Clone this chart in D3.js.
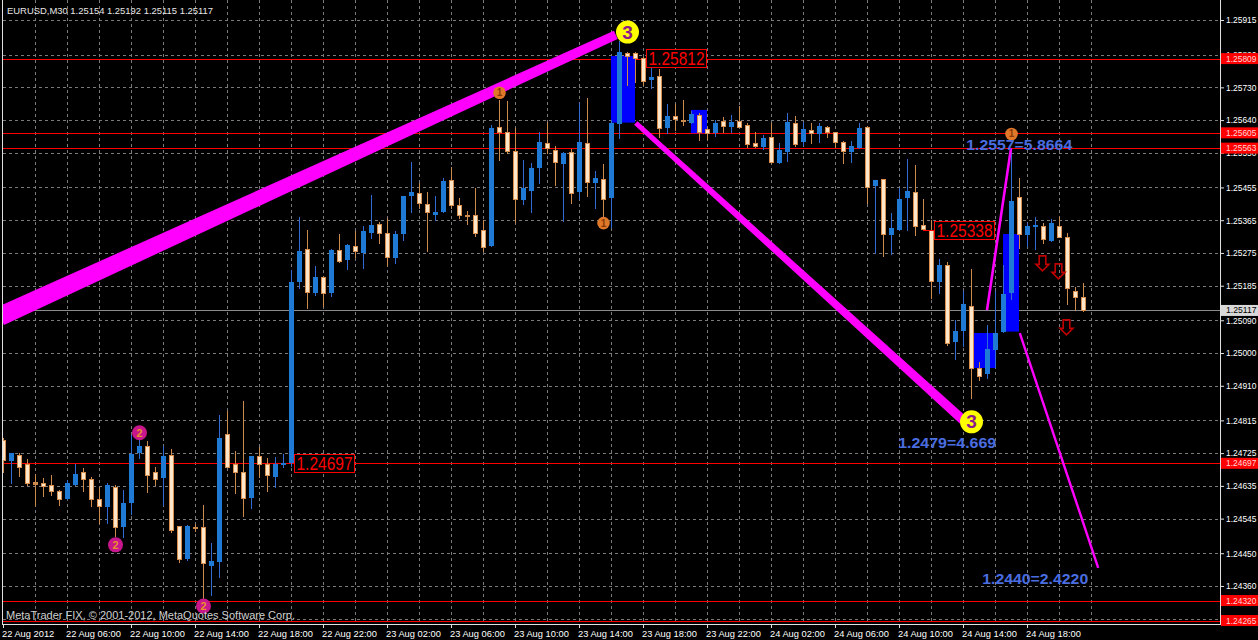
<!DOCTYPE html>
<html><head><meta charset="utf-8">
<script src="https://cdn.jsdelivr.net/npm/d3@7"></script>
<style>html,body{margin:0;padding:0;background:#000;overflow:hidden}svg{display:block}</style>
</head><body><svg id="c" width="1258" height="640"></svg>
<script>
// ---------- DATA ----------
const symbolTitle = "EURUSD,M30  1.25154 1.25192 1.25115 1.25117";
const copyright = "MetaTrader FIX, \u00A9 2001-2012, MetaQuotes Software Corp.";
const opens = [1.24761,1.24702,1.24719,1.24695,1.24646,1.24642,1.24637,1.24621,1.24600,1.24638,
1.24672,1.24653,1.24599,1.24578,1.24631,1.24523,1.24589,1.24725,1.24745,1.24673,
1.24658,1.24719,1.24525,1.24434,1.24522,1.24521,1.24416,1.24427,1.24777,1.24695,
1.24673,1.24601,1.24717,1.24695,1.24660,1.24691,1.24697,1.25196,1.25285,1.25164,
1.25208,1.25166,1.25283,1.25256,1.25294,1.25274,1.25331,1.25355,1.25329,1.25262,
1.25327,1.25432,1.25439,1.25410,1.25380,1.25388,1.25476,1.25406,1.25378,1.25379,
1.25338,1.25294,1.25620,1.25607,1.25555,1.25421,1.25445,1.25509,1.25576,1.25558,
1.25520,1.25552,1.25443,1.25576,1.25468,1.25478,1.25427,1.25629,1.25824,1.25824,
1.25812,1.25750,1.25761,1.25617,1.25651,1.25640,1.25633,1.25654,1.25615,1.25604,
1.25637,1.25622,1.25637,1.25627,1.25578,1.25565,1.25593,1.25523,1.25553,1.25633,
1.25581,1.25613,1.25602,1.25620,1.25607,1.25579,1.25553,1.25564,1.25620,1.25459,
1.25478,1.25323,1.25338,1.25427,1.25442,1.25351,1.25338,1.25196,1.25242,1.25031,
1.25061,1.25129,1.24958,1.24943,1.25007,1.25057,1.25164,1.25428,1.25323,1.25347,
1.25349,1.25309,1.25349,1.25318,1.25171,1.25154];
const highs = [1.24767,1.24726,1.24725,1.24708,1.24668,1.24656,1.24665,1.24624,1.24651,1.24695,
1.24684,1.24660,1.24631,1.24644,1.24637,1.24624,1.24775,1.24766,1.24757,1.24688,
1.24745,1.24737,1.24525,1.24528,1.24531,1.24583,1.24479,1.24830,1.24842,1.24731,
1.24867,1.24717,1.24743,1.24711,1.24715,1.24723,1.25228,1.25373,1.25338,1.25239,
1.25212,1.25285,1.25327,1.25300,1.25336,1.25349,1.25434,1.25361,1.25370,1.25334,
1.25432,1.25526,1.25468,1.25443,1.25432,1.25482,1.25512,1.25425,1.25390,1.25454,
1.25366,1.25627,1.25695,1.25693,1.25618,1.25530,1.25521,1.25607,1.25634,1.25569,
1.25553,1.25560,1.25686,1.25702,1.25501,1.25520,1.25640,1.25858,1.25826,1.25826,
1.25814,1.25787,1.25780,1.25684,1.25684,1.25695,1.25666,1.25660,1.25622,1.25640,
1.25648,1.25654,1.25679,1.25633,1.25607,1.25599,1.25633,1.25576,1.25660,1.25651,
1.25636,1.25633,1.25631,1.25624,1.25608,1.25583,1.25583,1.25631,1.25624,1.25476,
1.25478,1.25384,1.25453,1.25532,1.25517,1.25423,1.25366,1.25258,1.25251,1.25091,
1.25171,1.25230,1.24976,1.25076,1.25171,1.25242,1.25560,1.25480,1.25358,1.25373,
1.25358,1.25368,1.25373,1.25331,1.25181,1.25192];
const lows = [1.24673,1.24644,1.24662,1.24638,1.24583,1.24608,1.24610,1.24583,1.24600,1.24638,
1.24622,1.24580,1.24534,1.24532,1.24496,1.24494,1.24558,1.24711,1.24619,1.24638,
1.24583,1.24509,1.24427,1.24430,1.24511,1.24317,1.24336,1.24384,1.24688,1.24615,
1.24553,1.24575,1.24660,1.24622,1.24631,1.24688,1.24690,1.25178,1.25125,1.25160,
1.25130,1.25157,1.25251,1.25231,1.25265,1.25235,1.25315,1.25303,1.25242,1.25248,
1.25311,1.25388,1.25398,1.25281,1.25366,1.25388,1.25398,1.25372,1.25355,1.25322,
1.25281,1.25294,1.25530,1.25549,1.25361,1.25410,1.25388,1.25468,1.25549,1.25462,
1.25364,1.25412,1.25423,1.25432,1.25398,1.25343,1.25347,1.25591,1.25737,1.25746,
1.25737,1.25729,1.25594,1.25604,1.25613,1.25627,1.25631,1.25585,1.25587,1.25596,
1.25608,1.25608,1.25622,1.25567,1.25565,1.25560,1.25523,1.25521,1.25529,1.25569,
1.25572,1.25578,1.25581,1.25593,1.25567,1.25523,1.25526,1.25564,1.25412,1.25274,
1.25267,1.25272,1.25338,1.25338,1.25325,1.25338,1.25151,1.25164,1.25022,1.24983,
1.25018,1.24877,1.24926,1.24931,1.24963,1.25057,1.25148,1.25288,1.25295,1.25286,
1.25303,1.25309,1.25318,1.25135,1.25117,1.25115];
const closes = [1.24706,1.24725,1.24688,1.24644,1.24640,1.24635,1.24620,1.24598,1.24642,1.24668,
1.24655,1.24598,1.24581,1.24637,1.24521,1.24587,1.24723,1.24745,1.24664,1.24655,
1.24717,1.24514,1.24435,1.24525,1.24520,1.24423,1.24429,1.24766,1.24688,1.24672,
1.24601,1.24717,1.24695,1.24664,1.24695,1.24697,1.25196,1.25281,1.25169,1.25208,
1.25166,1.25283,1.25254,1.25297,1.25279,1.25335,1.25352,1.25331,1.25265,1.25327,
1.25432,1.25442,1.25411,1.25387,1.25388,1.25473,1.25408,1.25380,1.25377,1.25331,
1.25290,1.25619,1.25608,1.25556,1.25423,1.25454,1.25509,1.25580,1.25564,1.25526,
1.25549,1.25441,1.25580,1.25471,1.25481,1.25423,1.25631,1.25826,1.25817,1.25812,
1.25748,1.25758,1.25618,1.25651,1.25642,1.25639,1.25657,1.25608,1.25604,1.25633,
1.25624,1.25634,1.25622,1.25574,1.25570,1.25590,1.25526,1.25558,1.25636,1.25575,
1.25615,1.25605,1.25624,1.25607,1.25581,1.25555,1.25569,1.25618,1.25457,1.25476,
1.25326,1.25343,1.25423,1.25445,1.25350,1.25340,1.25198,1.25242,1.25027,1.25061,
1.25135,1.24960,1.24938,1.25010,1.25054,1.25162,1.25418,1.25326,1.25349,1.25352,
1.25313,1.25357,1.25318,1.25178,1.25155,1.25117];

const timeLabels = ["22 Aug 2012","22 Aug 06:00","22 Aug 10:00","22 Aug 14:00","22 Aug 18:00",
"22 Aug 22:00","23 Aug 02:00","23 Aug 06:00","23 Aug 10:00","23 Aug 14:00","23 Aug 18:00",
"23 Aug 22:00","24 Aug 02:00","24 Aug 06:00","24 Aug 10:00","24 Aug 14:00","24 Aug 18:00"];
const timeLabelBars = [0,8,16,24,32,40,48,56,64,72,80,88,96,104,112,120,128];
const priceTicks = [1.25915,1.25820,1.25730,1.25640,1.25550,1.25455,1.25365,1.25275,1.25185,
1.25090,1.25000,1.24910,1.24815,1.24725,1.24635,1.24545,1.24450,1.24360,1.24270];
const hLevels = [1.25809,1.25605,1.25563,1.24697,1.24320,1.24265];
const bidPrice = 1.25117;

// blue zones: bar from/to, price top/bottom
const zoneBars = [[76,79],[86,88],[121,124],[125,127]];
const zonePrices = [[1.25816,1.25633],[1.25668,1.25604],[1.25055,1.24959],[1.25327,1.25059]];

// pattern legs: [bar, price] start and end
const legStarts = [[-0.375,1.25101],[79.1,1.25632],[123,1.25118],[127.1,1.25055]];
const legEnds   = [[76.6,1.25874],[120,1.24816],[126,1.25563],[136.9,1.24410]];

// numbered pivot markers
const pivot1 = [[62,1.25715],[75,1.25357],[126,1.25602]];
const pivot2 = [[17,1.24781],[14,1.24473],[25,1.24305]];
const pivot3 = [[78,1.25882],[121,1.24811]];

// red boxed price texts: [bar, price]
const boxTexts = ["1.25812","1.25338","1.24697"];
const boxAnchors = [[80,1.25812],[116,1.25338],[36,1.24697]];
// blue projection texts
const projTexts = ["1.2557=5.8664","1.2479=4.669","1.2440=2.4220"];
const projAnchors = [[120.4,1.25572],[111.9,1.24753],[122.4,1.24380]];
// down arrows: [bar, price of top]
const arrowAnchors = [[130,1.25267],[132,1.25245],[133,1.25091]];

// ---------- DRAW ----------
const W = 1258, H = 640, plotR = 1220, plotB = 624;
const svg = d3.select("#c");
const FONT = "Tahoma, 'Liberation Sans', Arial, sans-serif";
svg.append("rect").attr("width", W).attr("height", H).attr("fill", "#000");

const x = d3.scaleLinear().domain([0, 1]).range([3, 11]);
const y = d3.scaleLinear().domain([1.24261, 1.25970]).range([622, 0]);
const cy = v => Math.round(y(v)) + 0.5;

svg.append("defs").append("clipPath").attr("id", "plot")
  .append("rect").attr("x", 3).attr("y", 0).attr("width", plotR - 3).attr("height", plotB);
const plot = svg.append("g").attr("clip-path", "url(#plot)");

// grid
const grid = plot.append("g").attr("stroke", "#7a7a7a").attr("stroke-dasharray", "3,3").attr("stroke-width", 1);
grid.selectAll("line.h").data(priceTicks).join("line")
  .attr("x1", 3).attr("x2", plotR).attr("y1", d => cy(d)).attr("y2", d => cy(d));
grid.selectAll("line.v").data(d3.range(4, 137, 4)).join("line")
  .attr("x1", d => x(d) + 0.5).attr("x2", d => x(d) + 0.5).attr("y1", 0).attr("y2", plotB);

// horizontal levels
plot.selectAll("line.lvl").data(hLevels).join("line")
  .attr("x1", 0).attr("x2", plotR).attr("y1", d => cy(d)).attr("y2", d => cy(d))
  .attr("stroke", "#ff0000").attr("stroke-width", 1);
// bid line
plot.append("line").attr("x1", 0).attr("x2", plotR).attr("y1", cy(bidPrice)).attr("y2", cy(bidPrice))
  .attr("stroke", "#8a8a8a");

// zones
plot.selectAll("rect.zone").data(zoneBars).join("rect")
  .attr("x", d => x(d[0])).attr("width", (d) => x(d[1]) - x(d[0]))
  .attr("y", (d, i) => y(zonePrices[i][0])).attr("height", (d, i) => y(zonePrices[i][1]) - y(zonePrices[i][0]))
  .attr("fill", "#0000ff");

// candles
const bars = opens.map((o, i) => ({i, o, h: highs[i], l: lows[i], c: closes[i]}));
const cg = plot.append("g");
bars.forEach(b => {
  const bx = x(b.i);
  const bull = b.c > b.o;
  const top = Math.round(y(Math.max(b.o, b.c))), bot = Math.round(y(Math.min(b.o, b.c)));
  cg.append("line").attr("x1", bx + 0.5).attr("x2", bx + 0.5)
    .attr("y1", Math.round(y(b.h))).attr("y2", Math.round(y(b.l)) + 1)
    .attr("stroke", bull ? "#2f6ad6" : "#cc8a4c").attr("stroke-width", 1);
  if (bull) {
    cg.append("rect").attr("x", bx - 2).attr("width", 5).attr("y", top).attr("height", Math.max(1, bot - top))
      .attr("fill", "#1f7ad6");
  } else {
    const hgt = Math.max(1, bot - top);
    if (hgt <= 2) {
      cg.append("rect").attr("x", bx - 2).attr("width", 5).attr("y", top).attr("height", hgt + 1).attr("fill", "#cc8a4c");
    } else {
      cg.append("rect").attr("x", bx - 1.5).attr("width", 4).attr("y", top + 0.5).attr("height", hgt)
        .attr("fill", "#ffe6c8").attr("stroke", "#d88e4e").attr("stroke-width", 1);
    }
  }
});

// pattern legs (filled tapered bands)
const legWidths = [[19, 9], [5, 9.5], [2.6, 2.6], [2.4, 2.4]];
const legG = plot.append("g");
legStarts.forEach((s, i) => {
  const x0 = x(s[0]), y0 = y(s[1]), x1 = x(legEnds[i][0]), y1 = y(legEnds[i][1]);
  const dx = x1 - x0, dy = y1 - y0, len = Math.hypot(dx, dy);
  const nx = -dy / len, ny = dx / len;
  const [w0, w1] = legWidths[i];
  const pts = [[x0 + nx * w0 / 2, y0 + ny * w0 / 2], [x1 + nx * w1 / 2, y1 + ny * w1 / 2],
               [x1 - nx * w1 / 2, y1 - ny * w1 / 2], [x0 - nx * w0 / 2, y0 - ny * w0 / 2]];
  legG.append("polygon").attr("points", pts.map(p => p.join(",")).join(" ")).attr("fill", "#ff00ff");
});

// markers
function marker(list, r, fill, txt, tcol, fs) {
  const g = plot.append("g");
  list.forEach(p => {
    const px = x(p[0]) + 0.5, py = y(p[1]);
    g.append("circle").attr("cx", px).attr("cy", py).attr("r", r).attr("fill", fill);
    g.append("text").attr("x", px).attr("y", py).attr("text-anchor", "middle").attr("dominant-baseline", "central")
      .attr("font-family", "'Liberation Sans', Arial, sans-serif").attr("font-weight", "bold")
      .attr("font-size", fs).attr("fill", tcol).text(txt);
  });
}
marker(pivot1, 6.3, "#e0782a", "1", "#8a3a08", 10);
marker(pivot2, 7.5, "#c8168c", "2", "#e8902a", 11);
marker(pivot3, 11.5, "#ffff00", "3", "#8b1a8b", 19);

// red boxed texts
boxTexts.forEach((t, i) => {
  const bx = x(boxAnchors[i][0]) + 3, by = y(boxAnchors[i][1]);
  plot.append("rect").attr("x", Math.round(bx) + 0.5).attr("y", Math.round(by - 9) + 0.5)
    .attr("width", 60).attr("height", 18).attr("fill", "#000").attr("stroke", "#ff0000");
  plot.append("text").attr("x", bx + 2.5).attr("y", by + 7).attr("fill", "#ff0000")
    .attr("font-family", "'Liberation Sans', Arial, sans-serif").attr("font-size", 19)
    .attr("textLength", 56).attr("lengthAdjust", "spacingAndGlyphs").text(t);
});
// connector for 1.25338
plot.append("line").attr("x1", x(115)).attr("x2", x(116) + 3)
  .attr("y1", cy(boxAnchors[1][1])).attr("y2", cy(boxAnchors[1][1])).attr("stroke", "#ff0000");

// blue projection texts
const projW = [106, 98, 106];
projTexts.forEach((t, i) => {
  plot.append("text").attr("x", x(projAnchors[i][0])).attr("y", y(projAnchors[i][1]))
    .attr("dominant-baseline", "central").attr("fill", "#4a6ee0")
    .attr("font-family", "'Liberation Sans', Arial, sans-serif").attr("font-weight", "bold")
    .attr("font-size", 15).attr("textLength", projW[i]).attr("lengthAdjust", "spacingAndGlyphs").text(t);
});

// down arrows
arrowAnchors.forEach(a => {
  const ax = x(a[0]) - 0.5, ay = y(a[1]);
  const pts = [[ax - 3.3, ay], [ax + 3.3, ay], [ax + 3.3, ay + 8.5], [ax + 6.5, ay + 8.5], [ax, ay + 15],
               [ax - 6.5, ay + 8.5], [ax - 3.3, ay + 8.5]];
  plot.append("polygon").attr("points", pts.map(p => p.join(",")).join(" "))
    .attr("fill", "none").attr("stroke", "#c00000").attr("stroke-width", 1.6);
});

// frame
svg.append("line").attr("x1", 2.5).attr("x2", 2.5).attr("y1", 0).attr("y2", plotB + 0.5).attr("stroke", "#e0e0e0");
svg.append("line").attr("x1", 2).attr("x2", plotR + 1).attr("y1", plotB + 0.5).attr("y2", plotB + 0.5).attr("stroke", "#e0e0e0");
svg.append("line").attr("x1", plotR + 0.5).attr("x2", plotR + 0.5).attr("y1", 0).attr("y2", plotB + 1).attr("stroke", "#e0e0e0");

// right axis
const ra = svg.append("g").attr("transform", `translate(${plotR},0)`)
  .call(d3.axisRight(y).tickValues(priceTicks).tickSize(4).tickSizeOuter(0).tickPadding(2).tickFormat(d => d.toFixed(5)));
ra.select(".domain").remove();
ra.selectAll("line").attr("stroke", "#e0e0e0");
ra.selectAll("text").attr("fill", "#ffffff").attr("font-family", FONT).attr("font-size", 8.8)
  .attr("textLength", 30.5).attr("lengthAdjust", "spacingAndGlyphs");

// bottom axis
const ba = svg.append("g").attr("transform", `translate(0,${plotB})`)
  .call(d3.axisBottom(x).tickValues(timeLabelBars).tickSize(4).tickSizeOuter(0).tickPadding(2)
    .tickFormat((d, i) => timeLabels[i]));
ba.select(".domain").remove();
ba.selectAll("line").attr("stroke", "#e0e0e0");
ba.selectAll("text").attr("fill", "#ffffff").attr("font-family", FONT).attr("font-size", 9.3)
  .attr("text-anchor", "start").attr("dx", -1.5);

// right labels for levels
hLevels.forEach(v => {
  const py = y(v);
  svg.append("rect").attr("x", plotR + 1).attr("y", py - 5.5).attr("width", W - plotR - 1).attr("height", 11).attr("fill", "#ff0000");
  svg.append("text").attr("x", plotR + 6).attr("y", py).attr("dominant-baseline", "central")
    .attr("fill", "#ffd8d8").attr("font-family", FONT).attr("font-size", 8.8)
    .attr("textLength", 30.5).attr("lengthAdjust", "spacingAndGlyphs").text(v.toFixed(5));
});
{
  const py = y(bidPrice);
  svg.append("rect").attr("x", plotR + 1).attr("y", py - 5.5).attr("width", W - plotR - 1).attr("height", 11).attr("fill", "#d8d8d8");
  svg.append("text").attr("x", plotR + 6).attr("y", py).attr("dominant-baseline", "central")
    .attr("fill", "#000").attr("font-family", FONT).attr("font-size", 8.8)
    .attr("textLength", 30.5).attr("lengthAdjust", "spacingAndGlyphs").text(bidPrice.toFixed(5));
}

// title & copyright
svg.append("text").attr("x", 7).attr("y", 14).attr("fill", "#e8e8e8").attr("font-family", FONT)
  .attr("font-size", 9.3).attr("textLength", 206).attr("lengthAdjust", "spacingAndGlyphs").text(symbolTitle);
svg.append("text").attr("x", 6).attr("y", 619).attr("fill", "#d0d0d0").attr("font-family", FONT)
  .attr("font-size", 10.5).attr("textLength", 289).attr("lengthAdjust", "spacingAndGlyphs").text(copyright);
</script>
</body></html>
